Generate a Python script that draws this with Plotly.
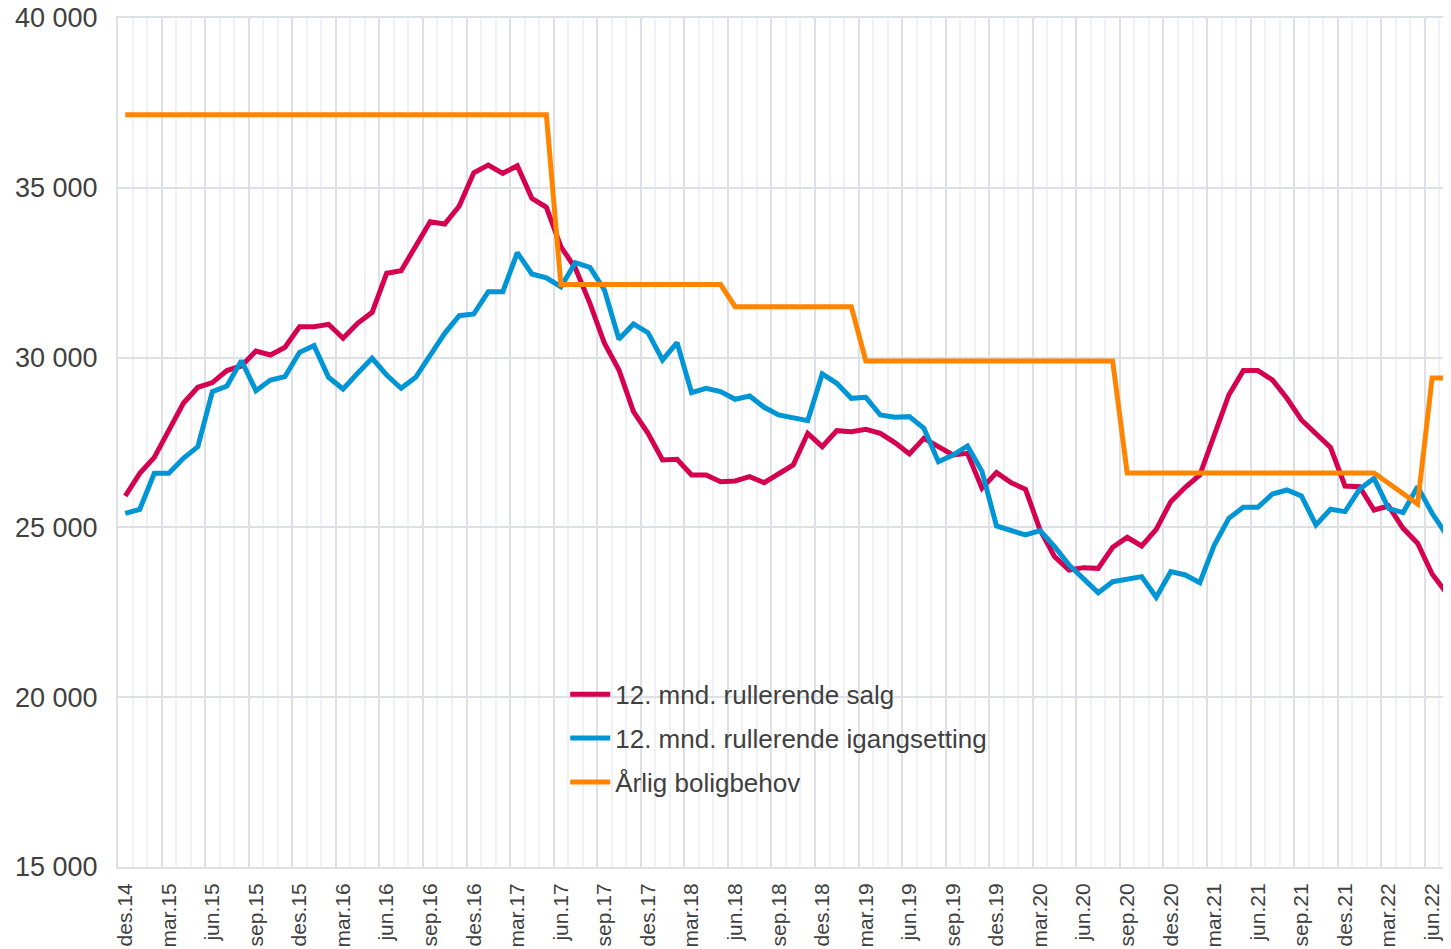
import plotly.graph_objects as go

# Monthly data from des.14 (index 0) to jul.22 (index 91)
month_abbr = ["des", "jan", "feb", "mar", "apr", "mai", "jun", "jul", "aug", "sep", "okt", "nov"]

salg = [25925, 26593, 27064, 27869, 28654, 29126, 29264, 29617, 29753, 30195, 30077, 30303,
        30910, 30910, 30980, 30568, 31010, 31333, 32482, 32560, 33247, 33999, 33934, 34464,
        35445, 35671, 35426, 35651, 34691, 34426, 33266, 32630, 31599, 30421, 29635, 28408,
        27771, 26985, 27005, 26543, 26543, 26347, 26367, 26494, 26317, 26593, 26838, 27771,
        27378, 27849, 27820, 27889, 27771, 27496, 27162, 27624, 27378, 27132, 27181, 26151,
        26612, 26317, 26122, 24924, 24139, 23746, 23815, 23795, 24414, 24708, 24453, 24944,
        25757, 26181, 26543, 27692, 28899, 29617, 29617, 29342, 28801, 28163, 27771, 27358,
        26219, 26200, 25513, 25630, 24973, 24532, 23628, 23060]

igangsetting = [25415, 25533, 26593, 26593, 27035, 27378, 28997, 29164, 29911, 29027, 29342, 29440,
                30155, 30352, 29420, 29075, 29538, 29980, 29488, 29096, 29420, 30077, 30714, 31234,
                31284, 31941, 31941, 33089, 32462, 32350, 32088, 32795, 32658, 31990, 30539, 30990,
                30734, 29930, 30440, 28967, 29096, 28997, 28772, 28869, 28536, 28310, 28242, 28143,
                29518, 29243, 28801, 28831, 28310, 28242, 28261, 27918, 26936, 27132, 27397, 26650,
                25042, 24924, 24777, 24905, 24433, 23893, 23501, 23078, 23402, 23471, 23550, 22942,
                23697, 23599, 23373, 24483, 25268, 25592, 25592, 25984, 26102, 25925, 25071, 25533,
                25464, 26122, 26446, 25562, 25435, 26200, 25415, 24777]

boligbehov = [37150] * 30 + [32150] * 12 + [31500] * 9 + [29900] * 18 + [26600] * 18 + \
             [26300, 26000, 25690, 29400, 29400]

tick_labels = ["des.14", "mar.15", "jun.15", "sep.15", "des.15", "mar.16", "jun.16", "sep.16",
               "des.16", "mar.17", "jun.17", "sep.17", "des.17", "mar.18", "jun.18", "sep.18",
               "des.18", "mar.19", "jun.19", "sep.19", "des.19", "mar.20", "jun.20", "sep.20",
               "des.20", "mar.21", "jun.21", "sep.21", "des.21", "mar.22", "jun.22"]

n = len(salg)
x = list(range(n))
months = [f"{month_abbr[i % 12]}.{14 + (i + 11) // 12}" for i in range(n)]
tick_pos = [months.index(t) for t in tick_labels]

RED = "#D5004F"
BLUE = "#0095D5"
ORANGE = "#FF8500"
TXT = "#404040"
GRID_MAJOR = "#dde1e6"
GRID_MINOR = "#eff1f4"

fig = go.Figure()
fig.add_trace(go.Scatter(x=x, y=salg, mode="lines", name="12. mnd. rullerende salg",
                         line=dict(color=RED, width=5), legendgroup="a"))
fig.add_trace(go.Scatter(x=x, y=igangsetting, mode="lines", name="12. mnd. rullerende igangsetting",
                         line=dict(color=BLUE, width=5), legendgroup="b"))
fig.add_trace(go.Scatter(x=x, y=boligbehov, mode="lines", name="Årlig boligbehov",
                         line=dict(color=ORANGE, width=5), legendgroup="c"))
# helper trace for the overlaying grid axis
fig.add_trace(go.Scatter(x=[], y=[], xaxis="x2", showlegend=False, hoverinfo="skip"))

xrange = [-0.5, 91.3]
boundaries = [i - 0.5 for i in range(0, n + 1)]
major_b = [b for k, b in enumerate(boundaries) if k % 3 == 0]
minor_b = [b for k, b in enumerate(boundaries) if k % 3 != 0]

# page body has an 8px margin: compensate so the chart fills the window
fig.update_layout(
    width=1443, height=941,
    margin=dict(l=110, r=0, t=10, b=82, autoexpand=False),
    paper_bgcolor="white", plot_bgcolor="white",
    separators=", ",
    font=dict(family="Liberation Sans, Arial, sans-serif", color=TXT),
    showlegend=True,
    legend=dict(x=0.3355, y=0.231, xanchor="left", yanchor="top",
                bgcolor="rgba(0,0,0,0)", font=dict(size=26, color=TXT),
                tracegroupgap=7, itemwidth=40),
    xaxis=dict(range=xrange, tickmode="array", tickvals=tick_pos, ticktext=tick_labels,
               tickangle=-90, tickfont=dict(size=21, color=TXT), showgrid=False,
               zeroline=False, showline=True, linecolor=GRID_MAJOR, linewidth=2, mirror=True,
               ticks="", ticklabelstandoff=6, ticklabeloverflow="allow", automargin=False,
               minor=dict(tickvals=minor_b, showgrid=True, gridcolor=GRID_MINOR, gridwidth=2, ticks="")),
    xaxis2=dict(range=xrange, overlaying="x", anchor="y", tickmode="array", tickvals=major_b,
                showticklabels=False, showgrid=True, gridcolor=GRID_MAJOR, gridwidth=2,
                zeroline=False, showline=False, ticks="", automargin=False),
    yaxis=dict(range=[15000, 40000], tickmode="array",
               tickvals=[15000, 20000, 25000, 30000, 35000, 40000],
               tickformat=",d", tickfont=dict(size=27, color=TXT),
               showgrid=True, gridcolor=GRID_MAJOR, gridwidth=2, zeroline=False,
               showline=True, linecolor=GRID_MAJOR, linewidth=2, automargin=False,
               ticks="", ticklabelstandoff=13, ticklabeloverflow="allow"),
)

fig.write_html("out.html")
